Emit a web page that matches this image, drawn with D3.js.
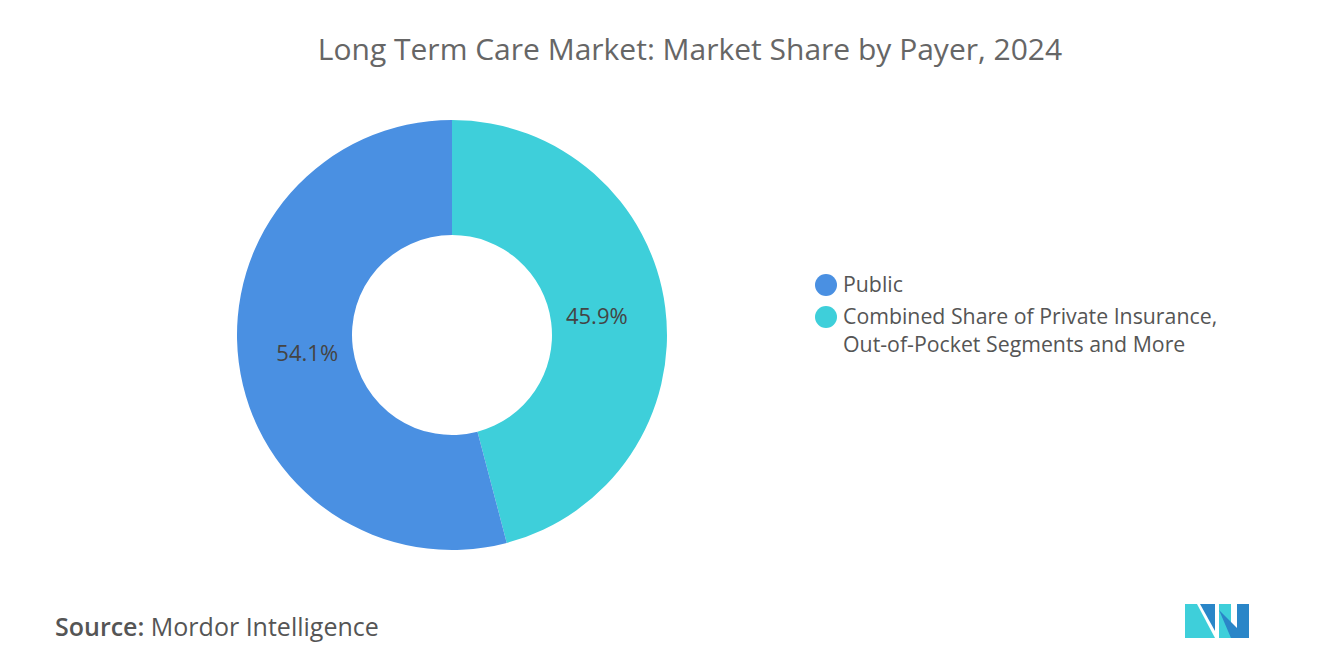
<!DOCTYPE html><html><head><meta charset="utf-8"><script src="https://cdn.jsdelivr.net/npm/d3@7"></script>
<style>body{margin:0;background:#fff;font-family:"Open Sans",sans-serif}</style></head><body><svg id="c" width="1320" height="665"></svg>
<script>
const categories=["Public","Combined Share of Private Insurance, Out-of-Pocket Segments and More"];
const values=[54.1,45.9];
const colors=["#4a90e2","#3ecfda"];
const svg=d3.select("#c").attr("font-family","'Open Sans',sans-serif");
svg.append("text").attr("x",690).attr("y",60).attr("text-anchor","middle").attr("font-size",30).attr("fill","#666").text("Long Term Care Market: Market Share by Payer, 2024");
const g=svg.append("g").attr("transform","translate(452,335)");
const data=categories.map((c,i)=>({c,v:values[i],col:colors[i]}));
const pie=d3.pie().sort(null).value(d=>d.v);
const arcs=pie([data[1],data[0]]);
const arc=d3.arc().innerRadius(100).outerRadius(215);
g.selectAll("path").data(arcs).join("path").attr("d",arc).attr("fill",d=>d.data.col);
const la=d3.arc().innerRadius(146).outerRadius(146);
g.selectAll("text").data(arcs).join("text").attr("transform",d=>`translate(${la.centroid(d)})`).attr("text-anchor","middle").attr("dy","0.35em").attr("font-size",22).attr("fill","#444").text(d=>d.data.v.toFixed(1)+"%");
const lg=svg.append("g");
data.forEach((d,i)=>{const y=i?317:285;
lg.append("circle").attr("cx",826).attr("cy",y).attr("r",11).attr("fill",d.col);
const t=lg.append("text").attr("x",843).attr("y",y).attr("dy","0.35em").attr("font-size",21.3).attr("fill","#555");
if(i){t.text("Combined Share of Private Insurance,");lg.append("text").attr("x",843).attr("y",y+28).attr("dy","0.35em").attr("font-size",21.3).attr("fill","#555").text("Out-of-Pocket Segments and More");}
else t.text(d.c);});
const s=svg.append("text").attr("x",55).attr("y",636).attr("font-size",25).attr("fill","#555");
s.append("tspan").attr("font-weight","600").text("Source:");s.append("tspan").text("  Mordor Intelligence");
const lo=svg.append("g").attr("transform","translate(1185,604)");
lo.append("polygon").attr("points","0,0 12,0 30,34 0,34").attr("fill","#3ecfda");
lo.append("polygon").attr("points","15,0 30,0 30,27 ").attr("fill","#2a86c8");
lo.append("polygon").attr("points","34,0 46,0 46,34 34,34").attr("fill","#3ecfda");
lo.append("polygon").attr("points","34,6 46,34 64,34 64,0 52,0 52,24 ").attr("fill","#2a86c8");
</script></body></html>
